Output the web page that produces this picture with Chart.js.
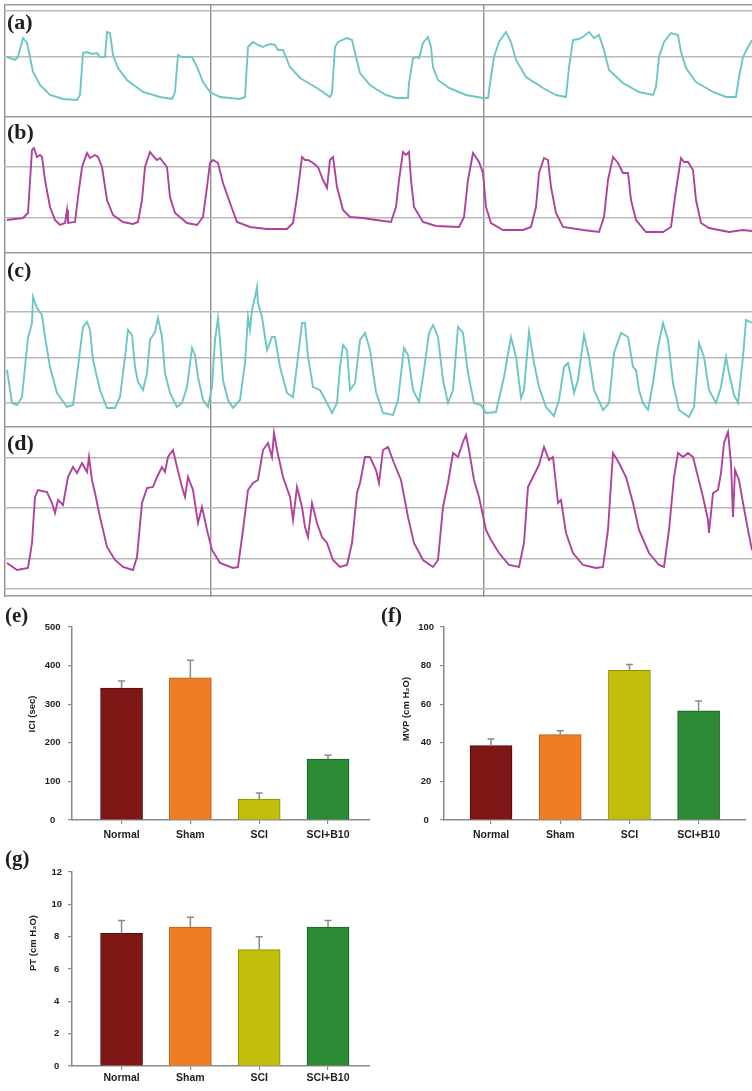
<!DOCTYPE html>
<html lang="en">
<head>
<meta charset="UTF-8">
<title>Bladder pressure traces and urodynamic parameters</title>
<script src="https://cdn.jsdelivr.net/npm/chart.js@4.4.0/dist/chart.umd.min.js"></script>
<style>
  body { margin: 0; background: #fff; }
  #wrap { position: relative; width: 752px; height: 1091px; overflow: hidden; }
  canvas { position: absolute; }
  .lbl { position: absolute; font: bold 22px 'Liberation Serif', 'DejaVu Serif', serif; color: #1e1e1e; line-height: 1; z-index: 2; }
  .ytitle { position: absolute; width: 140px; height: 12px; line-height: 12px; text-align: center;
            font: bold 9.5px 'Liberation Sans', Arial, sans-serif; color: #1e1e1e; transform: rotate(-90deg); }
</style>
</head>
<body>
<div id="wrap">
  <canvas id="traces" width="748" height="593" style="left:4px;top:4px"></canvas>
  <div class="lbl" style="left:7px;top:11px">(a)</div>
  <div class="lbl" style="left:7px;top:121px">(b)</div>
  <div class="lbl" style="left:7px;top:259px">(c)</div>
  <div class="lbl" style="left:7px;top:432px">(d)</div>

  <canvas id="chartE" width="376" height="238" style="left:0;top:612px"></canvas>
  <canvas id="chartF" width="376" height="238" style="left:376px;top:612px"></canvas>
  <canvas id="chartG" width="376" height="239" style="left:0;top:852px"></canvas>
  <div class="lbl" style="left:5px;top:605px;font-size:21px">(e)</div>
  <div class="lbl" style="left:381px;top:605px;font-size:21px">(f)</div>
  <div class="lbl" style="left:5px;top:848px;font-size:21px">(g)</div>
  <div class="ytitle" style="left:-38px;top:708px">ICI (sec)</div>
  <div class="ytitle" style="left:336px;top:703px">MVP (cm H₂O)</div>
  <div class="ytitle" style="left:-37px;top:937px">PT (cm H₂O)</div>
</div>

<script>
// cystometry recordings: [time, level] (level counts downward)
const traceA = [[7,57],[15,60],[18,57],[23,38],[27,43],[30,57],[33,72],[40,85],[50,95],[60,98],[63,99],[77,100],[80,95],[83,53],[87,52],[92,54],[97,53],[100,57],[105,57],[107,32],[110,33],[113,55],[118,68],[127,80],[143,92],[160,97],[172,99],[175,92],[178,55],[182,57],[192,57],[197,67],[203,82],[210,92],[220,97],[240,99],[245,97],[248,47],[253,42],[258,45],[263,47],[267,45],[271,44],[275,45],[278,50],[283,50],[290,67],[300,78],[317,88],[330,97],[332,93],[335,47],[338,42],[347,38],[352,40],[355,53],[360,73],[370,85],[376,89],[386,95],[396,98],[408,98],[409,83],[413,58],[418,57],[419,58],[423,43],[428,37],[431,47],[433,67],[438,80],[449,88],[466,95],[483,98],[488,98],[491,77],[494,57],[499,42],[506,32],[511,42],[516,60],[526,77],[543,88],[556,95],[566,97],[569,67],[573,40],[579,39],[584,36],[589,32],[594,38],[599,35],[604,50],[609,70],[623,83],[639,92],[653,95],[656,87],[659,57],[664,42],[671,33],[678,35],[681,52],[686,68],[696,82],[713,92],[726,97],[736,97],[739,77],[743,57],[748,47],[752,40]];

const traceB = [[7,220],[15,219],[23,218],[28,213],[32,150],[34,148],[37,157],[40,155],[42,157],[45,180],[50,207],[55,220],[60,225],[65,223],[67,210],[68,223],[75,222],[78,197],[82,167],[87,153],[90,158],[95,155],[98,157],[102,167],[107,200],[113,215],[123,222],[133,224],[138,222],[142,200],[145,167],[150,152],[154,157],[157,160],[160,158],[163,162],[167,167],[170,197],[175,213],[187,223],[197,225],[203,217],[207,187],[210,163],[213,160],[218,163],[223,183],[230,203],[237,222],[250,227],[267,229],[287,229],[293,223],[297,197],[302,157],[305,160],[308,160],[313,163],[318,167],[323,180],[327,188],[330,160],[333,157],[337,187],[343,210],[350,217],[363,218],[376,220],[391,222],[396,207],[399,180],[403,152],[406,155],[409,152],[411,180],[414,207],[423,222],[436,226],[459,227],[464,217],[468,180],[473,153],[479,162],[483,173],[486,207],[491,223],[503,230],[523,230],[531,227],[536,207],[539,173],[544,158],[548,160],[551,187],[556,213],[563,227],[583,230],[599,232],[604,217],[608,180],[613,157],[618,163],[623,173],[628,173],[631,200],[636,220],[646,232],[663,232],[671,227],[676,190],[681,158],[684,162],[688,162],[693,170],[696,200],[701,223],[709,228],[729,232],[743,230],[752,231]];

const traceC = [[7,370],[12,403],[17,405],[22,397],[25,367],[28,338],[32,323],[33,297],[37,308],[42,315],[45,337],[50,367],[57,393],[67,407],[73,405],[78,367],[83,327],[87,322],[90,330],[93,360],[100,390],[107,408],[115,408],[120,397],[125,357],[128,330],[132,335],[135,367],[138,382],[143,390],[147,373],[150,340],[155,332],[158,318],[162,337],[165,373],[170,393],[177,407],[182,403],[187,387],[192,348],[195,355],[198,377],[203,400],[208,407],[212,387],[215,340],[218,318],[220,340],[223,380],[228,400],[233,408],[240,400],[245,363],[248,317],[250,330],[252,310],[255,297],[257,287],[258,303],[262,317],[267,350],[272,337],[275,337],[280,367],[287,393],[293,397],[298,357],[302,323],[305,323],[308,357],[313,387],[320,390],[327,403],[332,413],[337,403],[340,367],[343,345],[347,350],[350,390],[355,383],[360,340],[365,333],[370,350],[373,372],[376,392],[383,413],[393,415],[398,400],[404,348],[408,355],[413,390],[419,402],[424,370],[429,333],[433,325],[438,337],[443,380],[448,403],[453,390],[458,327],[463,333],[468,373],[474,403],[481,405],[486,413],[496,412],[504,377],[511,337],[516,357],[521,398],[524,390],[529,332],[534,363],[539,387],[546,407],[554,416],[559,400],[564,367],[568,363],[571,377],[574,393],[578,380],[584,335],[589,357],[594,390],[603,410],[609,403],[614,353],[621,333],[628,337],[633,367],[636,370],[639,390],[643,403],[648,410],[653,383],[658,347],[663,323],[668,340],[673,383],[679,410],[689,417],[694,407],[699,343],[704,357],[709,390],[716,403],[721,387],[726,357],[729,373],[734,395],[738,403],[743,357],[746,320],[752,323]];

const traceD = [[7,563],[17,570],[28,568],[32,543],[35,497],[38,490],[47,492],[52,503],[55,513],[58,500],[63,505],[68,477],[73,467],[77,473],[82,463],[87,472],[89,457],[92,480],[95,493],[100,517],[107,547],[115,560],[123,567],[133,570],[137,557],[142,503],[147,488],[153,487],[157,477],[162,467],[165,472],[168,457],[173,450],[177,467],[182,487],[185,497],[188,477],[193,490],[198,523],[202,507],[207,530],[212,550],[220,563],[233,568],[238,567],[243,530],[248,490],[253,483],[258,480],[263,450],[268,443],[272,457],[274,433],[277,450],[283,477],[290,497],[293,520],[297,487],[302,507],[305,527],[308,537],[312,503],[317,523],[322,537],[327,543],[333,560],[340,567],[347,565],[352,543],[357,493],[360,483],[365,457],[370,457],[376,470],[379,483],[383,450],[388,447],[394,463],[401,480],[408,517],[414,543],[423,560],[433,567],[438,560],[443,507],[448,483],[453,453],[458,457],[463,442],[466,435],[469,450],[474,480],[479,497],[486,530],[491,540],[499,553],[509,565],[519,567],[524,543],[528,487],[533,477],[539,465],[544,447],[549,460],[553,457],[558,503],[561,500],[566,533],[573,553],[583,565],[596,568],[603,567],[608,530],[613,453],[619,463],[626,477],[633,503],[639,530],[649,553],[659,565],[664,567],[669,530],[674,477],[678,453],[683,457],[688,453],[693,457],[698,477],[703,497],[708,520],[709,533],[713,493],[718,490],[721,473],[724,443],[728,432],[731,463],[733,517],[735,470],[739,480],[743,503],[748,530],[752,550]];

// recorder grid
const gridTimes = [5, 211, 484];
const gridLevels = [5, 11, 57, 117, 167, 218, 253, 312, 358, 403, 427, 458, 508, 559, 589, 596];
const boundaryLevels = [5, 117, 253, 427, 596];

// bar graphs
const groups = ['Normal', 'Sham', 'SCI', 'SCI+B10'];
const iciMean = [342, 368, 54, 158];
const iciErr = [18, 46, 16, 10];
const mvpMean = [38.5, 44.2, 77.6, 56.6];
const mvpErr = [3.5, 2.0, 3.0, 5.1];
const ptMean = [8.2, 8.6, 7.2, 8.6];
const ptErr = [0.8, 0.6, 0.8, 0.4];

const barFill = ['#7d1614', '#ee7d26', '#c2bf0b', '#2c8a34'];
const barEdge = ['#4e0c0a', '#b85c17', '#8c8a06', '#1b5f22'];
const traceColors = ['#6cc6c5', '#b0419d', '#6cc6c5', '#b0419d'];

Chart.defaults.font.family = "'Liberation Sans', Arial, sans-serif";
Chart.defaults.color = '#1e1e1e';

new Chart(document.getElementById('traces'), {
  type: 'line',
  data: {
    datasets: [traceA, traceB, traceC, traceD].map((tr, i) => ({
      data: tr.map(p => ({ x: p[0], y: p[1] })),
      borderColor: traceColors[i],
      borderWidth: 1.9,
      pointRadius: 0,
      tension: 0,
      fill: false
    }))
  },
  options: {
    responsive: false,
    animation: false,
    plugins: { legend: { display: false }, tooltip: { enabled: false } },
    scales: {
      x: {
        type: 'linear', min: 4, max: 752,
        afterBuildTicks: s => { s.ticks = gridTimes.map(v => ({ value: v })); },
        ticks: { display: false },
        grid: { drawTicks: false, color: '#8e8e8e', lineWidth: 1.4 },
        border: { display: false }
      },
      y: {
        type: 'linear', reverse: true, min: 4, max: 597,
        afterBuildTicks: s => { s.ticks = gridLevels.map(v => ({ value: v })); },
        ticks: { display: false },
        grid: {
          drawTicks: false,
          lineWidth: 1.4,
          color: ctx => boundaryLevels.includes(ctx.tick.value) ? '#9a9a9a' : '#b9b9b9'
        },
        border: { display: false }
      }
    }
  }
});

function errorBars(errors) {
  return {
    id: 'errorBars',
    afterDatasetsDraw(chart) {
      const { ctx, scales: { x, y } } = chart;
      ctx.save();
      ctx.strokeStyle = '#8a8a8a';
      ctx.lineWidth = 1.5;
      chart.data.datasets[0].data.forEach((p, i) => {
        const px = x.getPixelForValue(p.x);
        const base = y.getPixelForValue(p.y);
        const top = y.getPixelForValue(p.y + errors[i]);
        ctx.beginPath();
        ctx.moveTo(px, base);
        ctx.lineTo(px, top);
        ctx.moveTo(px - 3.5, top);
        ctx.lineTo(px + 3.5, top);
        ctx.stroke();
      });
      ctx.restore();
    }
  };
}

function barPanel(id, means, errors, o) {
  new Chart(document.getElementById(id), {
    type: 'bar',
    data: {
      datasets: [{
        data: means.map((v, i) => ({ x: i + 1, y: v })),
        backgroundColor: barFill,
        borderColor: barEdge,
        borderWidth: 1,
        barThickness: 42
      }]
    },
    options: {
      responsive: false,
      animation: false,
      layout: { padding: { top: o.padTop, right: 6, left: 0, bottom: 0 } },
      plugins: { legend: { display: false }, tooltip: { enabled: false } },
      scales: {
        x: {
          type: 'linear', min: o.xMin, max: o.xMax, offset: false,
          afterBuildTicks: s => { s.ticks = groups.map((g, i) => ({ value: i + 1 })); },
          afterFit: s => { s.height = o.xHeight; },
          ticks: {
            autoSkip: false, maxRotation: 0, padding: o.labelPad,
            font: { weight: 'bold', size: 10.5 },
            callback: v => groups[v - 1]
          },
          grid: { offset: false, drawOnChartArea: false, tickLength: 4, color: '#8a8a8a', lineWidth: 1.2 },
          border: { color: '#8a8a8a', width: 1.5 }
        },
        y: {
          min: 0, max: o.yMax,
          afterFit: s => { s.width = o.yWidth; },
          ticks: {
            stepSize: o.yStep, padding: o.tickPad, crossAlign: 'center',
            font: { weight: 'bold', size: 9.5 }
          },
          grid: { drawOnChartArea: false, tickLength: 4, color: '#8a8a8a', lineWidth: 1.2 },
          border: { color: '#8a8a8a', width: 1.5 }
        }
      }
    },
    plugins: [errorBars(errors)]
  });
}

barPanel('chartE', iciMean, iciErr, { yMax: 500, yStep: 100, xMin: 0.28, xMax: 4.61, yWidth: 72, padTop: 15, xHeight: 30, labelPad: 5, tickPad: 7.5 });
barPanel('chartF', mvpMean, mvpErr, { yMax: 100, yStep: 20, xMin: 0.32, xMax: 4.685, yWidth: 68, padTop: 15, xHeight: 30, labelPad: 5, tickPad: 6 });
barPanel('chartG', ptMean, ptErr, { yMax: 12, yStep: 2, xMin: 0.28, xMax: 4.61, yWidth: 72, padTop: 20, xHeight: 25, labelPad: 2, tickPad: 6 });
</script>
</body>
</html>
